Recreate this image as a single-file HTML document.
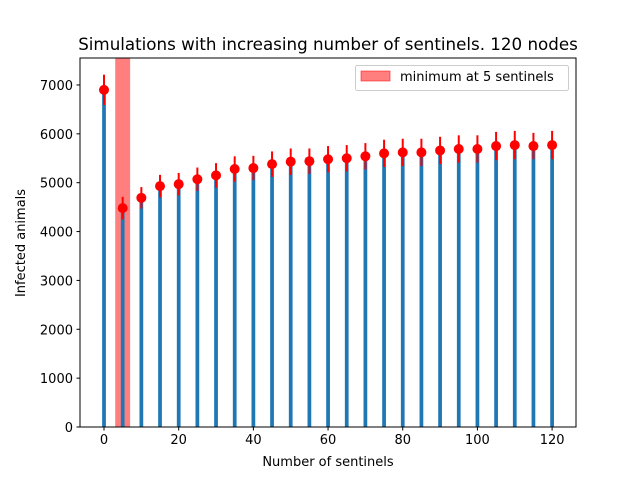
<!DOCTYPE html>
<html><head><meta charset="utf-8"><style>
body{margin:0;background:#fff}
svg text{font-family:"DejaVu Sans","Liberation Sans",sans-serif;fill:#000}
</style></head><body>
<svg id="c" width="640" height="480" xmlns="http://www.w3.org/2000/svg"></svg>
<script>
const sentinels=[0,5,10,15,20,25,30,35,40,45,50,55,60,65,70,75,80,85,90,95,100,105,110,115,120];
const means=[6900,4480,4690,4930,4970,5070,5150,5280,5300,5380,5430,5440,5480,5500,5540,5600,5620,5620,5660,5690,5690,5750,5770,5750,5770];
const errs=[310,230,220,230,230,240,250,260,250,260,270,260,270,270,270,280,280,280,280,280,280,290,290,270,290];
const xTicks=[0,20,40,60,80,100,120];
const yTicks=[0,1000,2000,3000,4000,5000,6000,7000];
const spanRange=[3,7];
const L=80,R=576,T=58,B=427;
const xmin=-6.43,xmax=126.4,ymin=0,ymax=7552;
const X=v=>L+(v-xmin)/(xmax-xmin)*(R-L);
const Y=v=>B-(v-ymin)/(ymax-ymin)*(B-T);
const svg=document.getElementById('c');
const NS='http://www.w3.org/2000/svg';
function mk(t,a,p){const e=document.createElementNS(NS,t);for(const k in a)e.setAttribute(k,a[k]);(p||svg).appendChild(e);return e;}
let e;
e=mk('rect',{x:X(spanRange[0]),y:T,width:X(spanRange[1])-X(spanRange[0]),height:B-T,fill:'#ff0000','fill-opacity':0.5});


sentinels.forEach((s,i)=>{
 const b=mk('rect',{x:X(s)-(X(1)-X(0))/2,y:Y(means[i]),width:X(1)-X(0),height:B-Y(means[i]),fill:'#1f77b4'});
 
 
});
sentinels.forEach((s,i)=>{
 const l=mk('line',{x1:X(s),x2:X(s),y1:Y(means[i]-errs[i]),y2:Y(means[i]+errs[i]),stroke:'#ff0000','stroke-width':2});
 
 
 const c=mk('circle',{cx:X(s),cy:Y(means[i]),r:5,fill:'#ff0000'});
 
 
});
e=mk('rect',{x:L,y:T,width:R-L,height:B-T,fill:'none',stroke:'#000','stroke-width':1});


xTicks.forEach(v=>{
 mk('line',{x1:X(v),x2:X(v),y1:B,y2:B+3.5,stroke:'#000'});
 const t=mk('text',{x:X(v),y:B+17,'text-anchor':'middle','font-size':'13'});t.textContent=v;
 
 
});
yTicks.forEach(v=>{
 mk('line',{x1:L-3.5,x2:L,y1:Y(v),y2:Y(v),stroke:'#000'});
 const t=mk('text',{x:L-7,y:Y(v)+5,'text-anchor':'end','font-size':'13'});t.textContent=v;
 
 
});
e=mk('text',{x:328,y:466,'text-anchor':'middle','font-size':'13'});e.textContent='Number of sentinels';


e=mk('text',{x:25,y:243,'text-anchor':'middle','font-size':'13',transform:'rotate(-90 25 243)'});e.textContent='Infected animals';


e=mk('text',{x:328,y:50,'text-anchor':'middle','font-size':'16.7'});e.textContent='Simulations with increasing number of sentinels. 120 nodes';


const g=mk('g',{});


mk('rect',{x:355.5,y:65.5,width:213,height:25,rx:2,fill:'#fff',stroke:'#ccc'},g);
mk('rect',{x:361,y:71,width:29,height:10,fill:'#ff0000','fill-opacity':0.5,stroke:'#ff0000','stroke-opacity':0.5},g);
e=mk('text',{x:400,y:81,'font-size':'13'},g);e.textContent='minimum at 5 sentinels';


</script>
</body></html>
